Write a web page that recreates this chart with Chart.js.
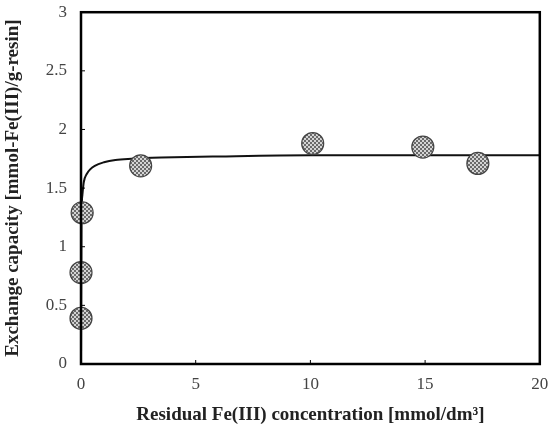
<!DOCTYPE html>
<html><head><meta charset="utf-8">
<script src="https://cdn.jsdelivr.net/npm/chart.js@4"></script>
<style>html,body{margin:0;padding:0;background:#fff}#wrap{width:552px;height:438px}</style>
</head><body><div id="wrap"><canvas id="c" width="552" height="438"></canvas></div>
<script>
const pointX = [0, 0, 0.05, 2.6, 10.1, 14.9, 17.3];
const pointY = [0.39, 0.78, 1.29, 1.69, 1.88, 1.85, 1.71];
const curveX = [0, 0.02, 0.06, 0.12, 0.25, 0.4, 0.6, 1.0, 1.5, 2.2, 3.5, 6, 10, 15, 20];
const curveY = [0, 1.2, 1.44, 1.55, 1.62, 1.66, 1.69, 1.72, 1.74, 1.75, 1.76, 1.77, 1.78, 1.78, 1.78];
const xTicks = [0, 5, 10, 15, 20];
const yTicks = [0, 0.5, 1, 1.5, 2, 2.5, 3];
const xTitle = 'Residual Fe(III) concentration [mmol/dm\u00B3]';
const yTitle = 'Exchange capacity [mmol-Fe(III)/g-resin]';

function hatch(){
  const p = document.createElement('canvas'); p.width = 4; p.height = 4;
  const g = p.getContext('2d');
  g.fillStyle = '#d4d4d4'; g.fillRect(0,0,4,4);
  g.fillStyle = '#6a6a6a';
  g.fillRect(0,0,2,2); g.fillRect(2,2,2,2);
  return g.createPattern(p,'repeat');
}

const innerTicks = {
  id:'innerTicks',
  afterDatasetsDraw(chart){
    const {ctx, chartArea:a, scales:{x,y}} = chart;
    ctx.save();
    ctx.strokeStyle = '#000'; ctx.lineWidth = 1;
    xTicks.forEach(v=>{const px=x.getPixelForValue(v); ctx.beginPath(); ctx.moveTo(px,a.bottom); ctx.lineTo(px,a.bottom-4); ctx.stroke();});
    yTicks.forEach(v=>{const py=y.getPixelForValue(v); ctx.beginPath(); ctx.moveTo(a.left,py); ctx.lineTo(a.left+4,py); ctx.stroke();});
    ctx.lineWidth = 2.5;
    ctx.strokeRect(a.left, a.top, a.right-a.left, a.bottom-a.top);
    ctx.restore();
  }
};

new Chart(document.getElementById('c'), {
  type: 'scatter',
  data: {
    datasets: [
      {
        type:'line',
        data: curveX.map((v,i)=>({x:v,y:curveY[i]})),
        borderColor:'#111', borderWidth:2, pointRadius:0, fill:false,
        cubicInterpolationMode:'monotone', order:2
      },
      {
        data: pointX.map((v,i)=>({x:v,y:pointY[i]})),
        pointRadius:11, pointHoverRadius:11, clip:false,
        backgroundColor: hatch(), borderColor:'#444', borderWidth:1.2, order:1
      }
    ]
  },
  options: {
    responsive:false, animation:false,
    layout:{padding:{left:2,right:2,top:4,bottom:2}},
    plugins:{legend:{display:false}, tooltip:{enabled:false}},
    scales:{
      x:{
        type:'linear', min:0, max:20,
        afterBuildTicks(s){ s.ticks = xTicks.map(v=>({value:v})); },
        afterFit(s){ s.height = 72; },
        grid:{display:true, drawOnChartArea:false, drawTicks:true, tickLength:10, color:'rgba(0,0,0,0)'},
        border:{display:false},
        ticks:{color:'#444', padding:0, maxRotation:0, callback:v=>String(v), font:{family:'Liberation Serif', size:17}},
        title:{display:true, text:xTitle, color:'#222', padding:{top:0,bottom:10}, font:{family:'Liberation Serif', size:19, weight:'bold'}}
      },
      y:{
        type:'linear', min:0, max:3,
        afterBuildTicks(s){ s.ticks = yTicks.map(v=>({value:v})); },
        afterFit(s){ s.width = 79; },
        grid:{display:true, drawOnChartArea:false, drawTicks:true, tickLength:14, color:'rgba(0,0,0,0)'},
        border:{display:false},
        ticks:{color:'#444', padding:0, callback:v=>String(v), font:{family:'Liberation Serif', size:17}},
        title:{display:true, text:yTitle, color:'#222', padding:{top:0,bottom:8}, font:{family:'Liberation Serif', size:19, weight:'bold'}}
      }
    }
  },
  plugins:[innerTicks]
});
</script>
</body></html>
